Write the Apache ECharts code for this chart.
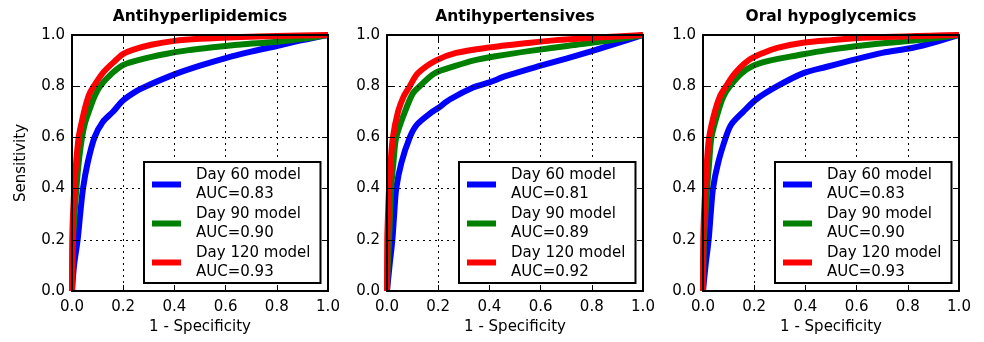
<!DOCTYPE html>
<html>
<head>
<meta charset="utf-8">
<script src="https://cdn.jsdelivr.net/npm/echarts@6/dist/echarts.min.js"></script>
<style>
  html, body { margin: 0; padding: 0; background: #fff; }
  #chart { width: 984px; height: 342px; }
</style>
</head>
<body>
<div id="chart"></div>
<script>
// panel titles and legend text
const panelTitles = ["Antihyperlipidemics", "Antihypertensives", "Oral hypoglycemics"];
const modelNames = ["Day 60 model", "Day 90 model", "Day 120 model"];
const aucValues = [
  ["0.83", "0.90", "0.93"],
  ["0.81", "0.89", "0.92"],
  ["0.83", "0.90", "0.93"],
];
const tickValues = [0, 0.2, 0.4, 0.6, 0.8, 1.0];

// ROC points [1 - specificity, sensitivity]
const lipidDay60 = [[0,0],[0.008,0.1],[0.022,0.2],[0.032,0.3],[0.043,0.4],[0.061,0.5],[0.088,0.6],[0.12,0.66],[0.16,0.7],[0.2,0.745],[0.25,0.78],[0.29,0.8],[0.4,0.846],[0.5,0.88],[0.6,0.91],[0.7,0.935],[0.8,0.957],[0.9,0.98],[1,1]];
const lipidDay90 = [[0,0],[0.004,0.2],[0.01,0.3],[0.017,0.4],[0.026,0.5],[0.039,0.6],[0.052,0.66],[0.069,0.71],[0.088,0.76],[0.11,0.8],[0.156,0.85],[0.2,0.883],[0.27,0.905],[0.36,0.925],[0.45,0.94],[0.55,0.952],[0.66,0.963],[0.79,0.973],[0.9,0.985],[1,1]];
const lipidDay120 = [[0,0],[0.001,0.2],[0.004,0.3],[0.009,0.4],[0.016,0.5],[0.026,0.6],[0.038,0.66],[0.052,0.72],[0.068,0.77],[0.085,0.8],[0.123,0.855],[0.175,0.905],[0.2,0.926],[0.24,0.943],[0.31,0.962],[0.4,0.977],[0.5,0.985],[0.66,0.992],[0.8,0.996],[1,1]];

const tensionDay60 = [[0,0],[0.01,0.1],[0.021,0.2],[0.028,0.3],[0.036,0.4],[0.056,0.5],[0.089,0.6],[0.117,0.65],[0.17,0.695],[0.2,0.715],[0.245,0.748],[0.336,0.795],[0.4,0.815],[0.466,0.84],[0.6,0.88],[0.7,0.908],[0.8,0.937],[0.9,0.968],[1,1]];
const tensionDay90 = [[0,0],[0.003,0.1],[0.008,0.2],[0.012,0.3],[0.016,0.4],[0.025,0.5],[0.036,0.6],[0.07,0.7],[0.1,0.77],[0.128,0.8],[0.186,0.85],[0.27,0.88],[0.336,0.9],[0.43,0.918],[0.56,0.938],[0.71,0.958],[0.88,0.98],[1,1]];
const tensionDay120 = [[0,0],[0.001,0.2],[0.004,0.3],[0.008,0.4],[0.014,0.5],[0.023,0.6],[0.043,0.7],[0.065,0.76],[0.089,0.8],[0.12,0.85],[0.19,0.9],[0.27,0.93],[0.39,0.95],[0.56,0.97],[0.66,0.98],[0.82,0.99],[1,1]];

const glycemicDay60 = [[0,0],[0.01,0.1],[0.022,0.2],[0.03,0.3],[0.039,0.4],[0.059,0.5],[0.089,0.6],[0.11,0.65],[0.157,0.7],[0.21,0.75],[0.29,0.8],[0.39,0.85],[0.48,0.875],[0.575,0.9],[0.7,0.93],[0.82,0.95],[0.9,0.97],[1,1]];
const glycemicDay90 = [[0,0],[0.004,0.2],[0.01,0.3],[0.016,0.4],[0.024,0.5],[0.033,0.6],[0.059,0.7],[0.08,0.76],[0.105,0.8],[0.15,0.85],[0.196,0.88],[0.26,0.9],[0.366,0.92],[0.48,0.94],[0.63,0.96],[0.84,0.98],[1,1]];
const glycemicDay120 = [[0,0],[0.001,0.2],[0.004,0.3],[0.009,0.4],[0.015,0.5],[0.024,0.6],[0.046,0.7],[0.066,0.76],[0.09,0.8],[0.124,0.85],[0.176,0.9],[0.235,0.93],[0.29,0.95],[0.39,0.97],[0.5,0.98],[0.65,0.99],[1,1]];

const panelCurves = [
  [lipidDay60, lipidDay90, lipidDay120],
  [tensionDay60, tensionDay90, tensionDay120],
  [glycemicDay60, glycemicDay90, glycemicDay120],
];
const modelColors = ["#0000ff", "#008000", "#ff0000"];

const FONT = "DejaVu Sans";
const gridLefts = [72, 387, 703];
const plotSize = 256;
const plotTop = 35;

const chart = echarts.init(document.getElementById("chart"), null, { renderer: "canvas" });

const grids = [], xAxes = [], yAxes = [], titles = [], legends = [], series = [];

panelTitles.forEach((title, p) => {
  grids.push({ left: gridLefts[p], top: plotTop, width: plotSize, height: plotSize });

  titles.push({
    text: title,
    left: gridLefts[p] + plotSize / 2,
    textAlign: "center",
    top: 9,
    padding: 0,
    textStyle: { fontFamily: FONT, fontSize: 15.5, fontWeight: "bold", color: "#000" },
  });

  const common = {
    type: "value", gridIndex: p, min: 0, max: 1, interval: 0.2, z: 3,
    axisLine: { show: true, onZero: false, lineStyle: { color: "#000", width: 2 } },
    axisTick: { show: true, inside: true, length: 6, lineStyle: { color: "#000", width: 1 } },
  };
  const label = {
    fontFamily: FONT, fontSize: 15, color: "#000",
    formatter: (v) => v.toFixed(1),
  };
  const dotted = { show: true, lineStyle: { color: "#000", width: 1, type: [2, 4] } };

  xAxes.push({
    ...common, position: "bottom",
    axisLabel: { ...label, margin: 9 },
    splitLine: dotted,
    name: "1 - Specificity", nameLocation: "middle", nameGap: 26,
    nameTextStyle: { fontFamily: FONT, fontSize: 15, color: "#000" },
  });
  xAxes.push({ ...common, position: "top", axisLabel: { show: false }, splitLine: { show: false } });

  yAxes.push({
    ...common, position: "left",
    axisLabel: { ...label, margin: 7 },
    splitLine: dotted,
    name: p === 0 ? "Sensitivity" : "", nameLocation: "middle", nameGap: 43,
    nameTextStyle: { fontFamily: FONT, fontSize: 15, color: "#000" },
  });
  yAxes.push({ ...common, position: "right", axisLabel: { show: false }, splitLine: { show: false } });

  const names = modelNames.map((m) => p + "|" + m);
  panelCurves[p].forEach((points, k) => {
    series.push({
      type: "line",
      name: names[k],
      xAxisIndex: p * 2,
      yAxisIndex: p * 2,
      data: points,
      showSymbol: false,
      smooth: 0.3,
      color: modelColors[k],
      lineStyle: { width: 6, color: modelColors[k] },
      z: 2,
      silent: true,
    });
  });

  legends.push({
    data: names,
    orient: "vertical",
    left: gridLefts[p] + 72,
    top: 162,
    selectedMode: false,
    icon: "rect",
    itemWidth: 29,
    itemHeight: 6,
    itemGap: 2,
    padding: [4, 10, 2, 8],
    backgroundColor: "#fff",
    borderColor: "#000",
    borderWidth: 2,
    borderRadius: 0,
    z: 5,
    itemStyle: { borderWidth: 0 },
    textStyle: {
      fontFamily: FONT, fontSize: 15, color: "#000", lineHeight: 18.5,
      padding: [0, 0, 0, 10],
    },
    formatter: (name) => {
      const k = modelNames.indexOf(name.split("|")[1]);
      return modelNames[k] + "\nAUC=" + aucValues[p][k];
    },
  });
});

chart.setOption({
  animation: false,
  backgroundColor: "#fff",
  title: titles,
  grid: grids,
  xAxis: xAxes,
  yAxis: yAxes,
  legend: legends,
  series: series,
});
</script>
</body>
</html>
